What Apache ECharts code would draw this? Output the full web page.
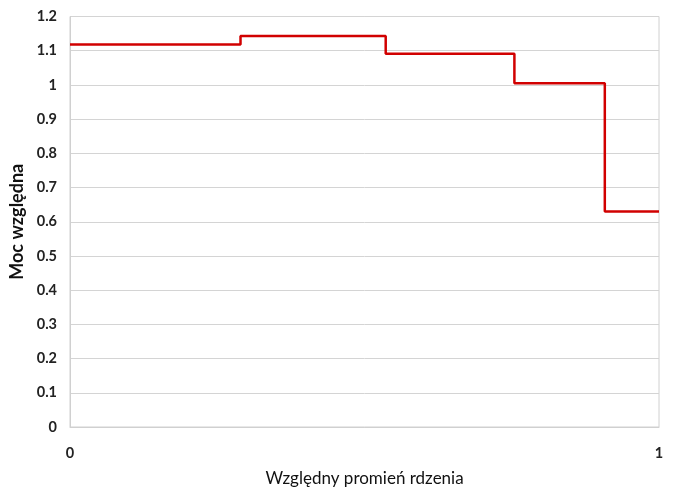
<!DOCTYPE html>
<html>
<head>
<meta charset="utf-8">
<script src="https://cdn.jsdelivr.net/npm/echarts@6/dist/echarts.min.js"></script>
<style>
html,body{margin:0;padding:0;background:#fff;}
#chart{width:674px;height:488px;}
</style>
</head>
<body>
<div id="chart"></div>
<script>
// Step boundaries (relative radius) and relative power levels
const radius = [0, 0.2895, 0.536, 0.7545, 0.908, 1];
const power = [1.118, 1.143, 1.091, 1.005, 0.630, 0.630];
const xTitle = 'Względny promień rdzenia';
const yTitle = 'Moc względna';

const seriesData = radius.map((r, i) => [r, power[i]]);

const chart = echarts.init(document.getElementById('chart'));
const labelFont = { fontFamily: 'Lato', fontSize: 14.5, fontWeight: 'bold', color: '#222' };
chart.setOption({
  animation: false,
  backgroundColor: '#fff',
  grid: { left: 70, right: 15, top: 16.5, bottom: 61, containLabel: false, outerBoundsMode: 'none', show: true, borderColor: '#d0d0d0', borderWidth: 1 },
  xAxis: {
    type: 'value', min: 0, max: 1, interval: 1,
    name: xTitle, nameLocation: 'middle', nameGap: 43,
    nameTextStyle: { fontFamily: 'Lato', fontSize: 17, color: '#111' },
    axisLine: { show: true, lineStyle: { color: '#d0d0d0' } },
    axisTick: { show: false },
    splitLine: { show: false },
    axisLabel: Object.assign({ margin: 19 }, labelFont)
  },
  yAxis: {
    type: 'value', min: 0, max: 1.2, interval: 0.1,
    name: yTitle, nameLocation: 'middle', nameGap: 41,
    nameTextStyle: { fontFamily: 'Lato', fontSize: 18, fontWeight: 'bold', color: '#111' },
    axisLine: { show: true, lineStyle: { color: '#d0d0d0' } },
    axisTick: { show: false },
    splitLine: { show: true, lineStyle: { color: '#d4d4d4', width: 1 } },
    axisLabel: Object.assign({ margin: 13, formatter: v => String(+v.toFixed(1)) }, labelFont)
  },
  series: [{
    type: 'line',
    step: 'end',
    data: seriesData,
    showSymbol: false,
    lineStyle: { color: '#d10000', width: 2.5 },
    itemStyle: { color: '#d10000' }
  }]
});
</script>
</body>
</html>
